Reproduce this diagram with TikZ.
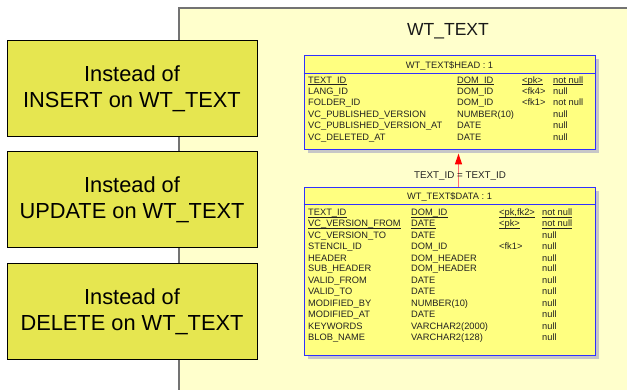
\documentclass[tikz,border=0pt]{standalone}
\usepackage{fontspec}
\setmainfont{Liberation Sans}
\usetikzlibrary{arrows.meta,shadows}
\definecolor{bgyellow}{HTML}{FFFFCC}
\definecolor{tabyellow}{HTML}{FFFF80}
\definecolor{trigyellow}{HTML}{E6E650}
\definecolor{tabblue}{HTML}{3030FF}
\definecolor{txt}{HTML}{222222}
\definecolor{relred}{HTML}{FF7070}
\begin{document}
\begin{tikzpicture}[x=1pt,y=-1pt,
  cell/.style={anchor=base west,inner sep=0pt,font=\fontsize{9.3}{11}\selectfont,text=txt},
  ttl/.style={anchor=base,inner sep=0pt,font=\fontsize{9.3}{11}\selectfont,text=txt},
  uline/.style={draw=txt,line width=0.8pt},
  tablebox/.style={draw=tabblue,line width=1pt,fill=tabyellow,minimum width=291pt,inner sep=0pt,
     drop shadow={shadow xshift=3.5pt,shadow yshift=-3.5pt,fill=black!22,opacity=1}},
  trig/.style={draw=black,line width=1pt,fill=trigyellow,minimum width=250pt,minimum height=96pt,
     align=center,inner sep=0pt,font=\fontsize{21.8}{26}\selectfont},
  rel/.style={-{Triangle[length=11pt,width=7pt,color=red]},draw=relred,line width=1.4pt}]
\useasboundingbox (0,0) rectangle (627,390);
\fill[white] (0,0) rectangle (627,390);
\fill[bgyellow] (179,8) rectangle (627,390);
\draw[black!55,line width=1.6pt] (179,390) -- (179,8) -- (627,8);
\node[anchor=base,font=\fontsize{17.5}{20}\selectfont,text=black!90] (title) at (448,36) {WT\_TEXT};
% trigger boxes
\node[trig] (ins) at (132,88.5) {Instead of\\INSERT on WT\_TEXT};
\node[trig] (upd) at (132,200) {Instead of\\UPDATE on WT\_TEXT};
\node[trig] (del) at (132,311.5) {Instead of\\DELETE on WT\_TEXT};
% head table
\node[tablebox,minimum height=94pt] (head) at (449.5,103) {};
\draw[tabblue,line width=1pt] (head.west |- 0,74) -- (head.east |- 0,74);
\node[ttl] (headt) at (449.5,68.3) {WT\_TEXT\$HEAD : 1};
\foreach \cn/\ct/\ck/\cu/\y/\ul [count=\i] in {
  TEXT\_ID/DOM\_ID/<pk>/not null/83.3/1,
  LANG\_ID/DOM\_ID/<fk4>/null/94.8/0,
  FOLDER\_ID/DOM\_ID/<fk1>/not null/106/0,
  VC\_PUBLISHED\_VERSION/NUMBER(10)//null/117.3/0,
  VC\_PUBLISHED\_VERSION\_AT/DATE//null/129/0,
  VC\_DELETED\_AT/DATE//null/140.5/0}{
    \node[cell] (hn\i) at (308,\y) {\cn};
    \node[cell] (ht\i) at (457,\y) {\ct};
    \node[cell] (hk\i) at (522,\y) {\ck};
    \node[cell] (hu\i) at (553,\y) {\cu};
  \ifnum\ul=1
    \foreach \c in {hn,ht,hk,hu}
      \draw[uline] ([yshift=-1.3pt]\c\i.base west) -- ([yshift=-1.3pt]\c\i.base east);
  \fi
}
% data table
\node[tablebox,minimum height=167.5pt] (data) at (449.5,271.75) {};
\draw[tabblue,line width=1pt] (data.west |- 0,205) -- (data.east |- 0,205);
\node[ttl] (datat) at (449.5,199.3) {WT\_TEXT\$DATA : 1};
\foreach \cn/\ct/\ck/\cu/\y/\ul [count=\i] in {
  TEXT\_ID/DOM\_ID/<pk{,}fk2>/not null/216/1,
  VC\_VERSION\_FROM/DATE/<pk>/not null/227/1,
  VC\_VERSION\_TO/DATE//null/239/0,
  STENCIL\_ID/DOM\_ID/<fk1>/null/250/0,
  HEADER/DOM\_HEADER//null/261.5/0,
  SUB\_HEADER/DOM\_HEADER//null/272/0,
  VALID\_FROM/DATE//null/283.7/0,
  VALID\_TO/DATE//null/294.7/0,
  MODIFIED\_BY/NUMBER(10)//null/306.5/0,
  MODIFIED\_AT/DATE//null/317.5/0,
  KEYWORDS/VARCHAR2(2000)//null/329.5/0,
  BLOB\_NAME/VARCHAR2(128)//null/340.5/0}{
    \node[cell] (dn\i) at (308,\y) {\cn};
    \node[cell] (dt\i) at (411,\y) {\ct};
    \node[cell] (dk\i) at (499,\y) {\ck};
    \node[cell] (du\i) at (542,\y) {\cu};
  \ifnum\ul=1
    \foreach \c in {dn,dt,dk,du}
      \draw[uline] ([yshift=-1.3pt]\c\i.base west) -- ([yshift=-1.3pt]\c\i.base east);
  \fi
}
% relationship
\draw[rel] ([xshift=9pt]data.north) -- ([xshift=9pt,yshift=-3pt]head.south);
\node[ttl,font=\fontsize{9.8}{11}\selectfont] (rl) at (460,179) {TEXT\_ID = TEXT\_ID};
\end{tikzpicture}
\end{document}
